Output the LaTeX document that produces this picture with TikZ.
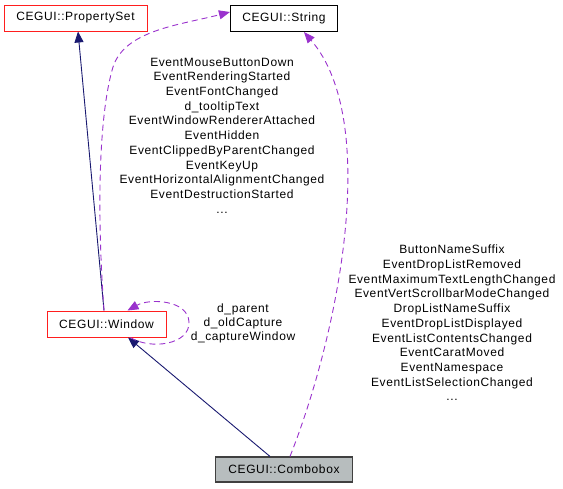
\documentclass[tikz,border=0pt]{standalone}
\usepackage{fontspec}
\setmainfont{Liberation Sans}[LetterSpace=5.0]
\usetikzlibrary{arrows.meta}
\definecolor{navyedge}{RGB}{25,25,112}
\definecolor{orchid}{RGB}{154,50,205}
\definecolor{boxred}{RGB}{255,30,30}
\definecolor{boxgray}{RGB}{183,189,190}
\tikzset{
  cls/.style={draw, line width=1.1pt, inner sep=0pt, font=\fontsize{12}{14.7}\selectfont},
  redcls/.style={cls, draw=boxred, line width=1.0pt},
  inherit/.style={navyedge, line width=0.9pt, -{Triangle[length=11pt,width=9pt]}},
  usage/.style={orchid, line width=0.9pt, dash pattern=on 6pt off 4pt, -{Triangle[length=11pt,width=9pt]}},
  lab/.style={align=center, inner sep=0pt, font=\fontsize{12}{14.7}\selectfont}
}
\begin{document}
\begin{tikzpicture}[x=1pt,y=-1pt]
\useasboundingbox (0,0) rectangle (563,488);
\node[redcls, minimum width=143pt, minimum height=26pt] (ps) at (75.5,18) {CEGUI::PropertySet};
\node[cls, draw=black, minimum width=107pt, minimum height=26pt] (str) at (284,18.5) {CEGUI::String};
\node[redcls, minimum width=119pt, minimum height=26pt] (win) at (106.5,324) {CEGUI::Window};
\node[cls, draw=black!75, fill=boxgray, minimum width=137pt, minimum height=25pt] (cb) at (284,469.5) {CEGUI::Combobox};

\coordinate (wtop) at ([xshift=-2.5pt]win.north);
\coordinate (pbot) at ([xshift=2.5pt]ps.south);
\draw[inherit] (wtop) -- (pbot);
\draw[inherit] ([xshift=-14pt]cb.north) -- ([xshift=21.5pt]win.south);

\draw[usage] (wtop) .. controls (96,200) and (100,110) .. (113,67)
  .. controls (125,30) and (180,25) .. ([yshift=6.5pt]str.west);
\draw[usage] ([xshift=6pt]cb.north) .. controls (340,330) and (380,120) .. ([xshift=20pt]str.south);
\draw[usage] ([xshift=24pt]win.south) .. controls (150,350) and (190,345) .. (189,322)
  .. controls (188,300) and (150,298) .. ([xshift=21pt]win.north);

\node[lab] (lblw) at (222,135.5) {EventMouseButtonDown\\EventRenderingStarted\\EventFontChanged\\d\_tooltipText\\EventWindowRendererAttached\\EventHidden\\EventClippedByParentChanged\\EventKeyUp\\EventHorizontalAlignmentChanged\\EventDestructionStarted\\...};
\node[lab] (lblc) at (452,323) {ButtonNameSuffix\\EventDropListRemoved\\EventMaximumTextLengthChanged\\EventVertScrollbarModeChanged\\DropListNameSuffix\\EventDropListDisplayed\\EventListContentsChanged\\EventCaratMoved\\EventNamespace\\EventListSelectionChanged\\...};
\node[lab, font=\fontsize{12}{14}\selectfont] (lbls) at (243,323) {d\_parent\\d\_oldCapture\\d\_captureWindow};
\end{tikzpicture}
\end{document}
